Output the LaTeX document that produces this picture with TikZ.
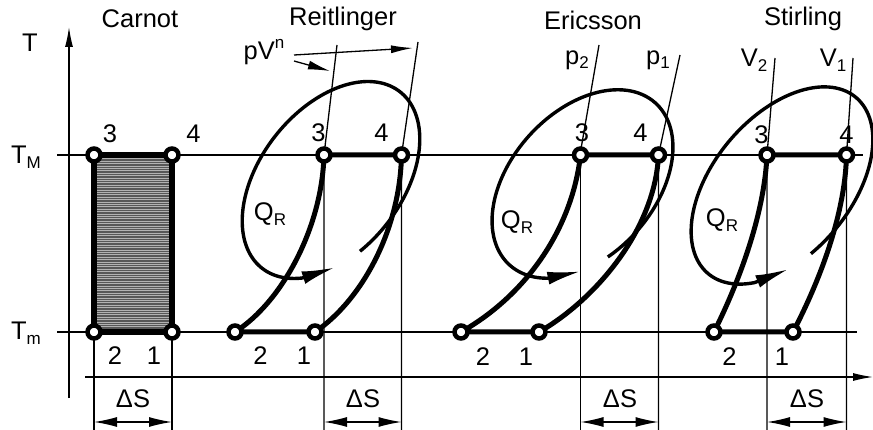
\documentclass[tikz,border=0pt]{standalone}
\usepackage{fontspec}
\setmainfont{Liberation Sans}
\usetikzlibrary{arrows.meta}
\newcommand\mysub[1]{\raisebox{-0.35ex}{\fontsize{17}{17}\selectfont #1}}
\newcommand\mysup[1]{\raisebox{0.85ex}{\fontsize{17}{17}\selectfont #1}}
\newcommand\qloop[7]{%
  \draw[qline,-{Latex[length=34pt,width=13pt]}]
    plot[domain=#6:#7-22,samples=120,smooth,variable=\t]
      ({#1+#3*cos(\t)*cos(#5)-#4*sin(\t)*sin(#5)},{#2-#3*cos(\t)*sin(#5)-#4*sin(\t)*cos(#5)})
    -- ({#1+#3*cos(#7)*cos(#5)-#4*sin(#7)*sin(#5)},{#2-#3*cos(#7)*sin(#5)-#4*sin(#7)*cos(#5)});}
\begin{document}
\begin{tikzpicture}[x=1pt,y=-1pt,
  every node/.style={font=\fontsize{25.5}{30}\selectfont, inner sep=0pt},
  thinl/.style={line width=1.3pt},
  cyc/.style={line width=5pt,line join=round},
  qline/.style={line width=3.4pt},
  pt/.style={circle,draw,fill=white,line width=4.5pt,minimum size=13pt,inner sep=0pt},
  axarr/.style={thinl,-{Latex[length=20pt,width=8pt]}},
  dimarr/.style={thinl,{Latex[length=23pt,width=10pt]}-{Latex[length=23pt,width=10pt]}}]
\useasboundingbox (0,0) rectangle (873,430);
% axes
\coordinate (Tb) at (69,398); \coordinate (Tt) at (69,27);
\coordinate (Sl) at (85,377); \coordinate (Sr) at (873,377);
\coordinate (TMl) at (57,155); \coordinate (TMr) at (863,155);
\coordinate (Tml) at (57,332); \coordinate (Tmr) at (857,332);
\draw[axarr] (Tb) -- (Tt);
\draw[axarr] (Sl) -- (Sr);
\draw[thinl] (TMl) -- (TMr);
\draw[thinl] (Tml) -- (Tmr);
\node (lT) at (30,43) {T};
\node (lTM) at (26,157) {T\mysub{M}};
\node (lTm) at (26,333) {T\mysub{m}};
% titles
\node (tC) at (140,19) {Carnot};
\node (tR) at (343,19) {Reitlinger};
\node (tE) at (593,20) {Ericsson};
\node (tS) at (803,19) {Stirling};
% ---------- Carnot
\coordinate (c3) at (94,155); \coordinate (c4) at (172,155);
\coordinate (c2) at (94,332); \coordinate (c1) at (172,332);
\fill[black!66] (c3) rectangle (c1);
\foreach \yy in {156.5,158.9,...,331} \draw[black!30,line width=1pt] (94,\yy) -- (172,\yy);
\draw[line width=6pt] (c3) rectangle (c1);
\coordinate (c2b) at (94,430); \coordinate (c1b) at (172,430);
\draw[thinl] (c2) -- (c2b); \draw[thinl] (c1) -- (c1b);
\coordinate (cda) at (94,422); \coordinate (cdb) at (172,422);
\draw[dimarr] (cda) -- (cdb);
\node (cDS) at (133,399) {ΔS};
\node (cl3) at (110,134) {3}; \node (cl4) at (193.5,134) {4};
\node (cl2) at (115,356) {2}; \node (cl1) at (154,356) {1};
% ---------- Reitlinger
\coordinate (r3) at (324,155); \coordinate (r4) at (401.5,155);
\coordinate (r2) at (235,332); \coordinate (r1) at (315,332);
\coordinate (r3b) at (324,430); \coordinate (r4b) at (401.5,430);
\coordinate (r3t) at (337,45); \coordinate (r4t) at (418,42);
\draw[thinl] (r3t) -- (r3) -- (r3b);
\draw[thinl] (r4t) -- (r4) -- (r4b);
\coordinate (pva) at (294,55); \coordinate (pvb) at (413,48);
\coordinate (pvc) at (294,61); \coordinate (pvd) at (330,71);
\draw[thinl,-{Latex[length=22pt,width=8pt]}] (pva) -- (pvb);
\draw[thinl,-{Latex[length=22pt,width=9pt]}] (pvc) -- (pvd);
\node (pv) at (264,52) {pV\mysup{n}};
\qloop{331}{180}{112}{71}{52}{-110}{234}
\draw[cyc] (r2) .. controls (282,302) and (322,228) .. (r3) -- (r4)
  .. controls (400,230) and (362,300) .. (r1) -- cycle;
\coordinate (rda) at (324,422); \coordinate (rdb) at (401.5,422);
\draw[dimarr] (rda) -- (rdb);
\node (rDS) at (363,399) {ΔS};
\node (rQ) at (270,214) {Q\mysub{R}};
\node (rl3) at (318.5,133) {3}; \node (rl4) at (381.5,133) {4};
\node (rl2) at (260.5,356) {2}; \node (rl1) at (304,356) {1};
% ---------- Ericsson
\coordinate (e3) at (580.5,155); \coordinate (e4) at (658.5,155);
\coordinate (e2) at (461,332); \coordinate (e1) at (539,332);
\coordinate (e3b) at (580.5,430); \coordinate (e4b) at (658.5,430);
\coordinate (e3t) at (599,45); \coordinate (e3s) at (573,195);
\coordinate (e4t) at (680,55);
\draw[thinl] (e3t) -- (e3s);
\draw[thinl] (e3) -- (e3b);
\draw[thinl] (e4t) -- (e4) -- (e4b);
\node (p2) at (577,60) {p\mysub{2}};
\node (p1) at (658,60) {p\mysub{1}};
\qloop{582.5}{184}{109}{72}{48}{-110}{233}
\draw[cyc] (e2) .. controls (525,296) and (572,230) .. (e3) -- (e4)
  .. controls (655,230) and (595,300) .. (e1) -- cycle;
\coordinate (eda) at (580.5,422); \coordinate (edb) at (658.5,422);
\draw[dimarr] (eda) -- (edb);
\node (eDS) at (620,399) {ΔS};
\node (eQ) at (517,222) {Q\mysub{R}};
\node (el3) at (582,133) {3}; \node (el4) at (640.5,133) {4};
\node (el2) at (483,357) {2}; \node (el1) at (526,357) {1};
% ---------- Stirling
\coordinate (s3) at (767,155); \coordinate (s4) at (846.5,155);
\coordinate (s2) at (714,332); \coordinate (s1) at (793,332);
\coordinate (s3b) at (767,430); \coordinate (s4b) at (846.5,430);
\coordinate (s3t) at (775,58); \coordinate (s4t) at (853,58);
\draw[thinl] (s3t) -- (s3) -- (s3b);
\draw[thinl] (s4t) -- (s4) -- (s4b);
\node (V2) at (754,60) {V\mysub{2}};
\node (V1) at (833,60) {V\mysub{1}};
\qloop{782}{185.5}{115}{69}{50}{-107}{239}
\draw[cyc] (s2) .. controls (735,290) and (764,220) .. (s3) -- (s4)
  .. controls (845,220) and (815,290) .. (s1) -- cycle;
\coordinate (sda) at (767,422); \coordinate (sdb) at (846.5,422);
\draw[dimarr] (sda) -- (sdb);
\node (sDS) at (807,399) {ΔS};
\node (sQ) at (722,220) {Q\mysub{R}};
\node (sl3) at (761.5,135) {3}; \node (sl4) at (846.5,135) {4};
\node (sl2) at (729.5,357) {2}; \node (sl1) at (782,357) {1};
% ---------- state points
\foreach \p in {c1,c2,c3,c4,r1,r2,r3,r4,e1,e2,e3,e4,s1,s2,s3,s4}
  \node[pt] (n\p) at (\p) {};
\end{tikzpicture}
\end{document}
